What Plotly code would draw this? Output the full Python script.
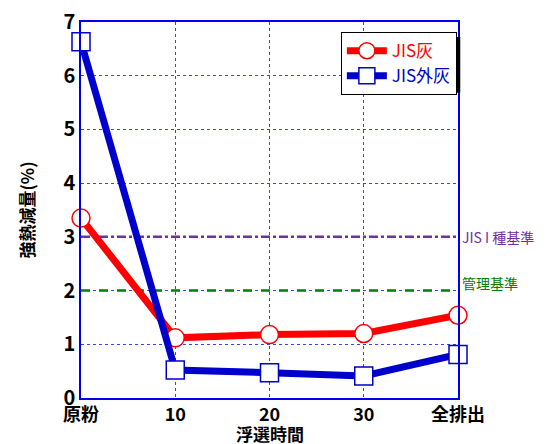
import plotly.graph_objects as go

categories = ["原粉", "10", "20", "30", "全排出"]
jis_ash = [3.35, 1.12, 1.18, 1.20, 1.54]
jis_outside_ash = [6.63, 0.52, 0.47, 0.41, 0.81]
jis_class1_limit = 3.0
management_limit = 2.0
y_ticks = [0, 1, 2, 3, 4, 5, 6, 7]

FONT = "Noto Sans CJK JP"
xi = list(range(len(categories)))

fig = go.Figure()

# reference lines
fig.add_trace(go.Scatter(x=[0, 4], y=[jis_class1_limit]*2, mode="lines",
                         line=dict(color="#7030A0", width=2.5, dash="dashdot"),
                         showlegend=False, hoverinfo="skip"))
fig.add_trace(go.Scatter(x=[0, 4], y=[management_limit]*2, mode="lines",
                         line=dict(color="#008000", width=2.5, dash="dash"),
                         showlegend=False, hoverinfo="skip"))

fig.add_trace(go.Scatter(
    x=xi, y=jis_ash, mode="lines+markers",
    name="<span style='color:#FF0000'>JIS灰</span>",
    line=dict(color="#FF0000", width=7),
    marker=dict(symbol="circle", size=18, color="white",
                line=dict(color="#FF0000", width=1.5)),
    cliponaxis=False))
fig.add_trace(go.Scatter(
    x=xi, y=jis_outside_ash, mode="lines+markers",
    name="<span style='color:#0000CC'>JIS外灰</span>",
    line=dict(color="#0000CC", width=7),
    marker=dict(symbol="square", size=18, color="white",
                line=dict(color="#0000CC", width=1.5)),
    cliponaxis=False))

# page body has an 8px margin, so the figure is sized and offset to compensate
fig.update_layout(
    width=540, height=436,
    margin=dict(l=73, r=90, t=14, b=46, autoexpand=False),
    paper_bgcolor="white", plot_bgcolor="white",
    font=dict(family=FONT, color="black"),
    legend=dict(x=0.997, y=0.973, xanchor="right", yanchor="top",
                bgcolor="white", bordercolor="black", borderwidth=1,
                font=dict(family=FONT, size=17, color="black"),
                itemwidth=40, tracegroupgap=0),
    xaxis=dict(range=[0, 4], tickmode="array", tickvals=xi, ticktext=categories,
               automargin=False, ticklabeloverflow="allow",
               showgrid=True, gridcolor="#3344FF", griddash="dot", gridwidth=1,
               showline=True, linecolor="#0000EE", linewidth=1.5, mirror=True,
               ticks="", zeroline=False,
               tickfont=dict(family=FONT, size=18, color="black", weight="bold")),
    yaxis=dict(range=[0, 7], tickmode="array", tickvals=y_ticks,
               automargin=False, ticklabeloverflow="allow",
               showgrid=True, gridcolor="#3344FF", griddash="dot", gridwidth=1,
               showline=True, linecolor="#0000EE", linewidth=1.5, mirror=True,
               ticks="", zeroline=False,
               tickfont=dict(family=FONT, size=20, color="black", weight="bold"),
               title=dict(text="<b>強熱減量(%)</b>", font=dict(family=FONT, size=17, color="black"),
                          standoff=24)),
    annotations=[
        dict(x=0.5, xref="paper", y=-0.094, yref="paper", xanchor="center", yanchor="middle",
             text="<b>浮選時間</b>", showarrow=False,
             font=dict(family=FONT, size=17, color="black")),
        dict(x=1, xref="paper", y=jis_class1_limit, yref="y", xanchor="left", xshift=2,
             text="JIS I 種基準", showarrow=False,
             font=dict(family=FONT, size=14, color="#7030A0")),
        dict(x=1, xref="paper", y=management_limit, yref="y", xanchor="left", xshift=2,
             yshift=8, text="管理基準", showarrow=False,
             font=dict(family=FONT, size=14, color="#008000")),
    ],
    shapes=[dict(type="rect", xref="paper", yref="paper",
                 x0=0.70, x1=1.006, y0=0.812, y1=0.96,
                 fillcolor="black", line=dict(width=0), layer="above")],
)

fig.write_html("out.html")
